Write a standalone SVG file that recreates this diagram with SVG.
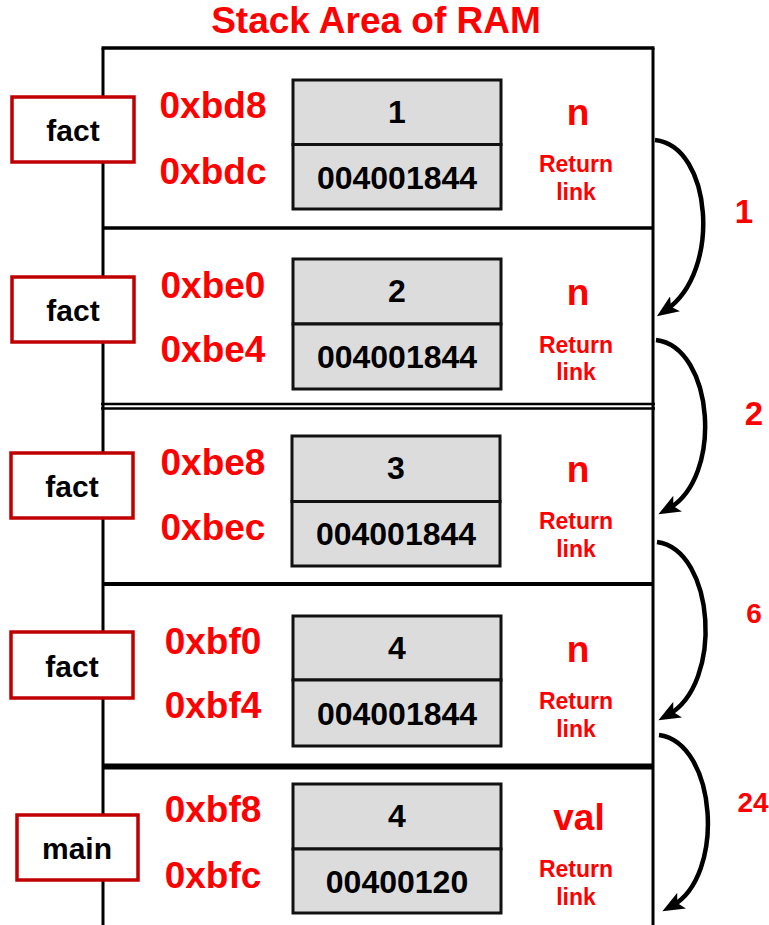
<svg xmlns="http://www.w3.org/2000/svg" width="769" height="925" viewBox="0 0 769 925">
<style>
text{font-family:"Liberation Sans",Arial,sans-serif;font-weight:bold;text-anchor:middle}
.title{fill:#ff0000;font-size:37px}
.addr{fill:#ff0000;font-size:37px}
.var{fill:#ff0000;font-size:37px}
.ret{fill:#ff0000;font-size:23px}
.val{fill:#000;font-size:32px}
.fn{fill:#000;font-size:30px}
.num{fill:#ff0000;font-size:33px}
.num2{fill:#ff0000;font-size:28px}
.cell{fill:#dcdcdc;stroke:#111;stroke-width:3}
.fbox{fill:#fff;stroke:#c00000;stroke-width:3.5}
.frame{stroke:#000;fill:none}
.arc{fill:none;stroke:#000;stroke-width:4.5}
</style>
<defs>
<marker id="ah" markerUnits="userSpaceOnUse" viewBox="0 0 22 18" refX="11" refY="9" markerWidth="22" markerHeight="18" orient="auto">
<path d="M0,0 L22,9 L0,18 L5,9 z" fill="#000"/>
</marker>
</defs>
<text class="title" x="376" y="33">Stack Area of RAM</text>
<g id="stack-frame">
<line class="frame" x1="103" y1="48" x2="103" y2="925" stroke-width="3"/>
<line class="frame" x1="653" y1="48" x2="653" y2="925" stroke-width="3"/>
<line class="frame" x1="101.5" y1="48" x2="654.5" y2="48" stroke-width="3.5"/>
<line class="frame" x1="103" y1="228" x2="653" y2="228" stroke-width="3.5"/>
<line class="frame" x1="101" y1="404" x2="655" y2="404" stroke-width="2.5"/>
<line class="frame" x1="101" y1="408.5" x2="655" y2="408.5" stroke-width="2.5"/>
<line class="frame" x1="103" y1="584" x2="653" y2="584" stroke-width="4"/>
<line class="frame" x1="103" y1="766.5" x2="653" y2="766.5" stroke-width="6"/>
</g>
<g id="frame1">
<rect class="fbox" x="12" y="97" width="122" height="65"/>
<text class="fn" x="73" y="141">fact</text>
<text class="addr" x="213" y="118">0xbd8</text>
<text class="addr" x="213" y="184">0xbdc</text>
<rect class="cell" x="293" y="80" width="208" height="64.5"/>
<rect class="cell" x="293" y="144.5" width="208" height="64.5"/>
<text class="val" x="397" y="123">1</text>
<text class="val" x="397" y="189">004001844</text>
<text class="var" x="578" y="125">n</text>
<text class="ret" x="576" y="172">Return</text>
<text class="ret" x="576" y="200">link</text>
</g>
<g id="frame2">
<rect class="fbox" x="12" y="277" width="122" height="65"/>
<text class="fn" x="73" y="321">fact</text>
<text class="addr" x="213" y="298">0xbe0</text>
<text class="addr" x="213" y="362">0xbe4</text>
<rect class="cell" x="293" y="259" width="208" height="65"/>
<rect class="cell" x="293" y="324" width="208" height="65"/>
<text class="val" x="397" y="302">2</text>
<text class="val" x="397" y="368">004001844</text>
<text class="var" x="578" y="305">n</text>
<text class="ret" x="576" y="353">Return</text>
<text class="ret" x="576" y="380">link</text>
</g>
<g id="frame3">
<rect class="fbox" x="11" y="453" width="122" height="65"/>
<text class="fn" x="72" y="497">fact</text>
<text class="addr" x="213" y="475">0xbe8</text>
<text class="addr" x="213" y="540">0xbec</text>
<rect class="cell" x="292" y="436" width="208" height="65.5"/>
<rect class="cell" x="292" y="501.5" width="208" height="64.5"/>
<text class="val" x="396" y="479">3</text>
<text class="val" x="396" y="545">004001844</text>
<text class="var" x="578" y="482">n</text>
<text class="ret" x="576" y="529">Return</text>
<text class="ret" x="576" y="557">link</text>
</g>
<g id="frame4">
<rect class="fbox" x="11" y="632" width="122" height="66"/>
<text class="fn" x="72" y="677">fact</text>
<text class="addr" x="213" y="654">0xbf0</text>
<text class="addr" x="213" y="718">0xbf4</text>
<rect class="cell" x="293" y="616" width="208" height="64"/>
<rect class="cell" x="293" y="680" width="208" height="66"/>
<text class="val" x="397" y="659">4</text>
<text class="val" x="397" y="725">004001844</text>
<text class="var" x="578" y="662">n</text>
<text class="ret" x="576" y="709">Return</text>
<text class="ret" x="576" y="737">link</text>
</g>
<g id="frame5">
<rect class="fbox" x="17" y="815" width="121" height="65"/>
<text class="fn" x="77" y="859">main</text>
<text class="addr" x="213" y="822">0xbf8</text>
<text class="addr" x="213" y="888">0xbfc</text>
<rect class="cell" x="293" y="784" width="208" height="65"/>
<rect class="cell" x="293" y="849" width="208" height="64"/>
<text class="val" x="397" y="827">4</text>
<text class="val" x="397" y="893">00400120</text>
<text class="var" x="579" y="830">val</text>
<text class="ret" x="576" y="877">Return</text>
<text class="ret" x="576" y="905">link</text>
</g>
<g id="connectors">
<path class="arc" d="M655,140 C712,146 722,272 666,310" marker-end="url(#ah)"/>
<path class="arc" d="M656,340 C714,347 724,478 668,509" marker-end="url(#ah)"/>
<path class="arc" d="M657,542 C715,550 724,684 668,715" marker-end="url(#ah)"/>
<path class="arc" d="M659,735 C717,743 726,876 672,906" marker-end="url(#ah)"/>
</g>
<g id="arc-labels">
<text class="num" x="744" y="223">1</text>
<text class="num" x="754" y="425">2</text>
<text class="num2" x="754" y="623">6</text>
<text class="num2" x="753" y="812">24</text>
</g>
</svg>
